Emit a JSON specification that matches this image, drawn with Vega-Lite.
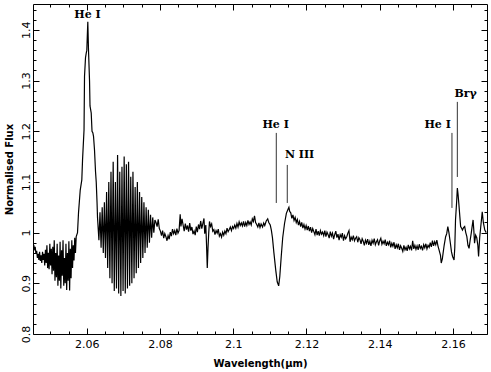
{
  "$schema": "https://vega.github.io/schema/vega-lite/v6.json",
  "width": 454,
  "height": 330,
  "autosize": "none",
  "padding": {"left": 33, "top": 4, "right": 4, "bottom": 38},
  "background": "white",
  "config": {
    "view": {"stroke": "black", "strokeWidth": 1},
    "axis": {"domain": false, "grid": false, "tickColor": "black", "tickWidth": 1, "labelColor": "black", "titleColor": "black", "labelFont": "DejaVu Sans", "labelFontSize": 11, "titleFont": "DejaVu Sans", "titleFontSize": 10, "titleFontWeight": "bold"}
  },
  "datasets": {
    "spectrum": [
      {"w":2.0455,"f":0.976},{"w":2.0457,"f":0.968},{"w":2.0459,"f":0.972},{"w":2.0461,"f":0.958},{"w":2.0463,"f":0.964},{"w":2.0465,"f":0.950},{"w":2.0467,"f":0.958},{"w":2.0469,"f":0.946},{"w":2.0471,"f":0.962},{"w":2.0473,"f":0.944},{"w":2.0475,"f":0.955},{"w":2.0477,"f":0.940},{"w":2.0479,"f":0.962},{"w":2.0481,"f":0.946},{"w":2.0483,"f":0.958},{"w":2.0485,"f":0.935},{"w":2.0487,"f":0.966},{"w":2.0489,"f":0.940},{"w":2.0491,"f":0.975},{"w":2.0493,"f":0.930},{"w":2.0495,"f":0.960},{"w":2.0497,"f":0.928},{"w":2.0499,"f":0.978},{"w":2.0501,"f":0.935},{"w":2.0503,"f":0.968},{"w":2.0505,"f":0.918},{"w":2.0507,"f":0.972},{"w":2.0509,"f":0.925},{"w":2.0511,"f":0.985},{"w":2.0513,"f":0.905},{"w":2.0515,"f":0.960},{"w":2.0517,"f":0.912},{"w":2.0519,"f":0.978},{"w":2.0521,"f":0.895},{"w":2.0523,"f":0.955},{"w":2.0525,"f":0.905},{"w":2.0527,"f":0.982},{"w":2.0529,"f":0.890},{"w":2.0531,"f":0.965},{"w":2.0533,"f":0.915},{"w":2.0535,"f":0.985},{"w":2.0537,"f":0.895},{"w":2.0539,"f":0.950},{"w":2.0541,"f":0.900},{"w":2.0543,"f":0.978},{"w":2.0545,"f":0.887},{"w":2.0547,"f":0.960},{"w":2.0549,"f":0.905},{"w":2.0551,"f":0.983},{"w":2.0553,"f":0.886},{"w":2.0555,"f":0.968},{"w":2.0557,"f":0.910},{"w":2.0559,"f":0.985},{"w":2.0561,"f":0.930},{"w":2.0563,"f":0.975},{"w":2.0565,"f":0.945},{"w":2.0567,"f":0.990},{"w":2.0569,"f":0.960},{"w":2.0571,"f":0.992},
      {"w":2.05746,"f":1.0},{"w":2.05773,"f":1.039},{"w":2.0582,"f":1.084},{"w":2.05863,"f":1.104},{"w":2.05883,"f":1.143},{"w":2.05924,"f":1.203},{"w":2.05937,"f":1.308},{"w":2.05964,"f":1.345},{"w":2.05984,"f":1.354},{"w":2.06,"f":1.36},{"w":2.06027,"f":1.416},{"w":2.06046,"f":1.36},{"w":2.06074,"f":1.30},{"w":2.06087,"f":1.25},{"w":2.0612,"f":1.236},{"w":2.06142,"f":1.20},{"w":2.06164,"f":1.197},{"w":2.06183,"f":1.19},{"w":2.0621,"f":1.163},{"w":2.06238,"f":1.12},{"w":2.06257,"f":1.10},{"w":2.06279,"f":1.06},{"w":2.06292,"f":1.03},
      {"w":2.0633,"f":0.985},{"w":2.0636,"f":1.04},{"w":2.0639,"f":0.97},{"w":2.0642,"f":1.05},{"w":2.0645,"f":0.96},{"w":2.0648,"f":1.06},{"w":2.0651,"f":0.95},{"w":2.0654,"f":1.08},{"w":2.0657,"f":0.93},{"w":2.0660,"f":1.10},{"w":2.0663,"f":0.91},{"w":2.0666,"f":1.12},{"w":2.0669,"f":0.90},{"w":2.0672,"f":1.14},{"w":2.0675,"f":0.885},{"w":2.0678,"f":1.10},{"w":2.0681,"f":0.89},{"w":2.0684,"f":1.153},{"w":2.0687,"f":0.88},{"w":2.0690,"f":1.12},{"w":2.0693,"f":0.875},{"w":2.0696,"f":1.13},{"w":2.0699,"f":0.885},{"w":2.0702,"f":1.15},{"w":2.0705,"f":0.88},{"w":2.0708,"f":1.135},{"w":2.0711,"f":0.89},{"w":2.0714,"f":1.14},{"w":2.0717,"f":0.895},{"w":2.0720,"f":1.11},{"w":2.0723,"f":0.90},{"w":2.0726,"f":1.12},{"w":2.0729,"f":0.91},{"w":2.0732,"f":1.09},{"w":2.0735,"f":0.92},{"w":2.0738,"f":1.10},{"w":2.0741,"f":0.93},{"w":2.0744,"f":1.08},{"w":2.0747,"f":0.94},{"w":2.0750,"f":1.07},{"w":2.0753,"f":0.95},{"w":2.0756,"f":1.06},{"w":2.0759,"f":0.96},{"w":2.0762,"f":1.05},{"w":2.0765,"f":0.97},{"w":2.0768,"f":1.045},{"w":2.0771,"f":0.98},{"w":2.0774,"f":1.035},{"w":2.0777,"f":0.99},{"w":2.0780,"f":1.03},{"w":2.0783,"f":1.0},{"w":2.0786,"f":1.025},
      {"w":2.0789,"f":1.02},{"w":2.0792,"f":1.012},{"w":2.0795,"f":1.026},{"w":2.0798,"f":1.008},{"w":2.0801,"f":1.003},{"w":2.0804,"f":0.994},{"w":2.0807,"f":1.004},{"w":2.0810,"f":0.989},{"w":2.0813,"f":0.998},{"w":2.0816,"f":0.992},{"w":2.0819,"f":0.984},{"w":2.0822,"f":0.994},{"w":2.0825,"f":0.987},{"w":2.0828,"f":1.001},{"w":2.0831,"f":0.993},{"w":2.0834,"f":1.007},{"w":2.0837,"f":0.998},{"w":2.0840,"f":1.004},{"w":2.0843,"f":0.995},{"w":2.0846,"f":1.008},{"w":2.0849,"f":0.999},{"w":2.0852,"f":1.004},{"w":2.0855,"f":1.036},{"w":2.0857,"f":1.012},{"w":2.0860,"f":1.027},{"w":2.0863,"f":1.015},{"w":2.0866,"f":1.003},{"w":2.0869,"f":1.018},{"w":2.0872,"f":1.006},{"w":2.0875,"f":1.014},{"w":2.0878,"f":1.002},{"w":2.0881,"f":1.019},{"w":2.0884,"f":1.004},{"w":2.0887,"f":1.011},{"w":2.0890,"f":0.997},{"w":2.0893,"f":1.003},{"w":2.0896,"f":0.995},{"w":2.0899,"f":1.012},{"w":2.0902,"f":1.001},{"w":2.0905,"f":1.016},{"w":2.0908,"f":1.007},{"w":2.0911,"f":1.023},{"w":2.0914,"f":1.008},{"w":2.0917,"f":1.018},{"w":2.0920,"f":1.028},{"w":2.0922,"f":0.998},{"w":2.0925,"f":1.015},{"w":2.0927,"f":0.975},{"w":2.0929,"f":0.93},{"w":2.0931,"f":0.97},{"w":2.0933,"f":1.0},{"w":2.0935,"f":1.022},{"w":2.0938,"f":1.012},{"w":2.0941,"f":1.017},{"w":2.0944,"f":1.003},{"w":2.0947,"f":1.006},{"w":2.0950,"f":0.996},{"w":2.0953,"f":1.004},{"w":2.0956,"f":0.999},{"w":2.0959,"f":1.007},{"w":2.0962,"f":0.993},{"w":2.0965,"f":0.998},{"w":2.0968,"f":0.991},{"w":2.0971,"f":1.001},{"w":2.0974,"f":0.995},{"w":2.0977,"f":1.003},{"w":2.0980,"f":0.998},{"w":2.0983,"f":1.009},{"w":2.0986,"f":1.002},{"w":2.0989,"f":1.006},{"w":2.0992,"f":1.011},{"w":2.0995,"f":1.004},{"w":2.0998,"f":1.012},{"w":2.1001,"f":1.008},{"w":2.1004,"f":1.015},{"w":2.1007,"f":1.009},{"w":2.1010,"f":1.018},{"w":2.1013,"f":1.011},{"w":2.1016,"f":1.021},{"w":2.1019,"f":1.014},{"w":2.1022,"f":1.019},{"w":2.1025,"f":1.013},{"w":2.1028,"f":1.022},
      {"w":2.1031,"f":1.012},{"w":2.1034,"f":1.02},{"w":2.1037,"f":1.014},{"w":2.1040,"f":1.024},{"w":2.1043,"f":1.016},{"w":2.1046,"f":1.021},{"w":2.1049,"f":1.015},{"w":2.1052,"f":1.027},{"w":2.1055,"f":1.022},{"w":2.1058,"f":1.033},{"w":2.1061,"f":1.02},{"w":2.1064,"f":1.016},{"w":2.1067,"f":1.011},{"w":2.1070,"f":1.019},{"w":2.1073,"f":1.01},{"w":2.1076,"f":1.017},{"w":2.1080,"f":1.011},{"w":2.1083,"f":1.019},{"w":2.1086,"f":1.014},{"w":2.1090,"f":1.023},{"w":2.1094,"f":1.027},{"w":2.1097,"f":1.02},{"w":2.1101,"f":1.015},{"w":2.1104,"f":1.005},{"w":2.1107,"f":0.99},{"w":2.1111,"f":0.96},{"w":2.1116,"f":0.926},{"w":2.1120,"f":0.903},{"w":2.1124,"f":0.895},{"w":2.1127,"f":0.913},{"w":2.1131,"f":0.953},{"w":2.1135,"f":0.99},{"w":2.1140,"f":1.018},{"w":2.1145,"f":1.038},{"w":2.1149,"f":1.045},{"w":2.1152,"f":1.05},{"w":2.1154,"f":1.042},{"w":2.1157,"f":1.039},{"w":2.1160,"f":1.028},{"w":2.1163,"f":1.035},{"w":2.1166,"f":1.024},{"w":2.1169,"f":1.03},{"w":2.1172,"f":1.02},{"w":2.1175,"f":1.026},{"w":2.1178,"f":1.015},{"w":2.1181,"f":1.022},{"w":2.1184,"f":1.012},{"w":2.1187,"f":1.02},{"w":2.1190,"f":1.009},{"w":2.1193,"f":1.016},{"w":2.1196,"f":1.007},{"w":2.1199,"f":1.014},{"w":2.1202,"f":1.005},{"w":2.1205,"f":1.013},{"w":2.1208,"f":1.003},{"w":2.1211,"f":1.011},{"w":2.1214,"f":1.0},{"w":2.1217,"f":1.008},{"w":2.1220,"f":1.002},{"w":2.1223,"f":0.996},{"w":2.1226,"f":1.007},{"w":2.1229,"f":0.995},{"w":2.1232,"f":1.003},{"w":2.1235,"f":0.994},{"w":2.1238,"f":1.004},{"w":2.1241,"f":0.997},{"w":2.1244,"f":1.001},
      {"w":2.1247,"f":0.994},{"w":2.1250,"f":1.004},{"w":2.1253,"f":0.992},{"w":2.1256,"f":1.001},{"w":2.1259,"f":0.996},{"w":2.1262,"f":0.989},{"w":2.1265,"f":1.002},{"w":2.1268,"f":0.993},{"w":2.1271,"f":0.999},{"w":2.1274,"f":0.987},{"w":2.1277,"f":0.996},{"w":2.1280,"f":1.003},{"w":2.1283,"f":0.99},{"w":2.1286,"f":0.997},{"w":2.1289,"f":0.985},{"w":2.1292,"f":0.996},{"w":2.1295,"f":0.991},{"w":2.1298,"f":0.999},{"w":2.1301,"f":0.984},{"w":2.1304,"f":0.994},{"w":2.1307,"f":0.988},{"w":2.1310,"f":0.992},{"w":2.1313,"f":0.999},{"w":2.1316,"f":1.004},{"w":2.1319,"f":0.982},{"w":2.1322,"f":0.991},{"w":2.1325,"f":0.986},{"w":2.1328,"f":0.994},{"w":2.1331,"f":0.984},{"w":2.1334,"f":0.989},{"w":2.1337,"f":0.992},{"w":2.1340,"f":0.981},{"w":2.1343,"f":0.99},{"w":2.1346,"f":0.986},{"w":2.1349,"f":0.978},{"w":2.1352,"f":0.988},{"w":2.1355,"f":0.983},{"w":2.1358,"f":0.975},{"w":2.1361,"f":0.985},{"w":2.1364,"f":0.979},{"w":2.1367,"f":0.987},{"w":2.1370,"f":0.976},{"w":2.1373,"f":0.983},{"w":2.1376,"f":0.974},{"w":2.1379,"f":0.985},{"w":2.1382,"f":0.979},{"w":2.1385,"f":0.988},{"w":2.1388,"f":0.976},{"w":2.1391,"f":0.982},{"w":2.1394,"f":0.986},{"w":2.1397,"f":0.975},{"w":2.1400,"f":0.984},{"w":2.1403,"f":0.989},{"w":2.1406,"f":0.977},{"w":2.1409,"f":0.983},{"w":2.1412,"f":0.978},{"w":2.1415,"f":0.986},{"w":2.1418,"f":0.974},{"w":2.1421,"f":0.981},{"w":2.1424,"f":0.976},{"w":2.1427,"f":0.984},{"w":2.1430,"f":0.971},{"w":2.1433,"f":0.979},{"w":2.1436,"f":0.973},{"w":2.1439,"f":0.981},{"w":2.1442,"f":0.968},{"w":2.1445,"f":0.976},{"w":2.1448,"f":0.97},{"w":2.1451,"f":0.978},{"w":2.1454,"f":0.966},{"w":2.1457,"f":0.974},{"w":2.1460,"f":0.969},{"w":2.1463,"f":0.963},{"w":2.1466,"f":0.975},{"w":2.1469,"f":0.966},{"w":2.1472,"f":0.971},{"w":2.1475,"f":0.964},{"w":2.1478,"f":0.976},{"w":2.1481,"f":0.968},{"w":2.1484,"f":0.973},{"w":2.1487,"f":0.965},{"w":2.1490,"f":0.984},{"w":2.1493,"f":0.968},{"w":2.1496,"f":0.975},{"w":2.1499,"f":0.967},
      {"w":2.1502,"f":0.974},{"w":2.1505,"f":0.966},{"w":2.1508,"f":0.977},{"w":2.1511,"f":0.969},{"w":2.1514,"f":0.973},{"w":2.1517,"f":0.965},{"w":2.1520,"f":0.976},{"w":2.1523,"f":0.97},{"w":2.1526,"f":0.978},{"w":2.1529,"f":0.968},{"w":2.1532,"f":0.975},{"w":2.1535,"f":0.971},{"w":2.1538,"f":0.98},{"w":2.1541,"f":0.972},{"w":2.1544,"f":0.984},{"w":2.1547,"f":0.974},{"w":2.1550,"f":0.982},{"w":2.1553,"f":0.976},{"w":2.1556,"f":0.985},{"w":2.1559,"f":0.974},{"w":2.1562,"f":0.966},{"w":2.1566,"f":0.955},{"w":2.1568,"f":0.94},{"w":2.1571,"f":0.948},{"w":2.1573,"f":0.959},{"w":2.1576,"f":0.975},{"w":2.1580,"f":0.992},{"w":2.1583,"f":0.998},{"w":2.1586,"f":1.012},{"w":2.1589,"f":1.0},{"w":2.1593,"f":0.979},{"w":2.1596,"f":0.962},{"w":2.1599,"f":0.953},{"w":2.1603,"f":0.946},{"w":2.1605,"f":0.97},{"w":2.1607,"f":1.025},{"w":2.1610,"f":1.06},{"w":2.1612,"f":1.088},{"w":2.1614,"f":1.075},{"w":2.1616,"f":1.058},{"w":2.1619,"f":1.03},{"w":2.1621,"f":1.012},{"w":2.1624,"f":1.008},{"w":2.1626,"f":1.005},{"w":2.1629,"f":1.01},{"w":2.1632,"f":1.012},{"w":2.1635,"f":1.0},{"w":2.1638,"f":0.992},{"w":2.1641,"f":0.975},{"w":2.1644,"f":0.969},{"w":2.1647,"f":0.985},{"w":2.1650,"f":0.999},{"w":2.1652,"f":1.01},{"w":2.1655,"f":1.025},{"w":2.1657,"f":1.005},{"w":2.1659,"f":0.979},{"w":2.1662,"f":0.995},{"w":2.1665,"f":0.99},{"w":2.1668,"f":0.975},{"w":2.1670,"f":0.953},{"w":2.1673,"f":0.99},{"w":2.1676,"f":1.012},{"w":2.1680,"f":1.041},{"w":2.1683,"f":1.02},{"w":2.1687,"f":1.005},{"w":2.1691,"f":1.0}
    ],
    "lines": [
      {"w":2.11175,"top":1.1967,"bottom":1.0585},
      {"w":2.11475,"top":1.1335,"bottom":1.0585},
      {"w":2.15973,"top":1.1967,"bottom":1.0487},
      {"w":2.1612,"top":1.2579,"bottom":1.1098}
    ],
    "labels": [
      {"w":2.0602,"f":1.424,"label":"He I"},
      {"w":2.11156,"f":1.2066,"label":"He I"},
      {"w":2.11811,"f":1.1473,"label":"N III"},
      {"w":2.15582,"f":1.2066,"label":"He I"},
      {"w":2.16347,"f":1.2677,"label":"Brγ"}
    ]
  },
  "layer": [
    {
      "data": {"name": "spectrum"},
      "mark": {"type": "line", "color": "black", "strokeWidth": 1.2, "clip": true},
      "encoding": {
        "x": {"field": "w", "type": "quantitative", "scale": {"domain": [2.0453, 2.1693], "nice": false, "zero": false},
          "axis": {"orient": "bottom", "title": "Wavelength(µm)", "values": [2.05,2.055,2.06,2.065,2.07,2.075,2.08,2.085,2.09,2.095,2.1,2.105,2.11,2.115,2.12,2.125,2.13,2.135,2.14,2.145,2.15,2.155,2.16,2.165],
            "format": ".2~f", "labelExpr": "round(datum.value*1000) % 20 == 0 ? datum.label : ''",
            "tickSize": {"condition": {"test": "round(datum.value*1000) % 20 == 0", "value": -6}, "value": -3},
            "labelPadding": 10, "titlePadding": 6, "labelFlush": false, "labelOverlap": false}},
        "y": {"field": "f", "type": "quantitative", "scale": {"domain": [0.8, 1.451], "nice": false, "zero": false},
          "axis": {"orient": "left", "title": "Normalised Flux", "values": [0.8,0.82,0.84,0.86,0.88,0.9,0.92,0.94,0.96,0.98,1,1.02,1.04,1.06,1.08,1.1,1.12,1.14,1.16,1.18,1.2,1.22,1.24,1.26,1.28,1.3,1.32,1.34,1.36,1.38,1.4,1.42,1.44],
            "format": ".1~f", "labelExpr": "round(datum.value*100) % 10 == 0 ? datum.label : ''",
            "tickSize": {"condition": {"test": "round(datum.value*100) % 10 == 0", "value": -6}, "value": -3},
            "labelAngle": -90, "labelAlign": "center", "labelBaseline": "bottom", "labelPadding": 8, "titlePadding": 3, "labelFlush": false, "labelOverlap": false}}
      }
    },
    {
      "data": {"name": "lines"},
      "mark": {"type": "rule", "color": "#333333", "strokeWidth": 1},
      "encoding": {
        "x": {"field": "w", "type": "quantitative", "scale": {"domain": [2.0453, 2.1693], "nice": false, "zero": false},
          "axis": {"orient": "top", "title": null, "labels": false, "values": [2.05,2.055,2.06,2.065,2.07,2.075,2.08,2.085,2.09,2.095,2.1,2.105,2.11,2.115,2.12,2.125,2.13,2.135,2.14,2.145,2.15,2.155,2.16,2.165],
            "tickSize": {"condition": {"test": "round(datum.value*1000) % 20 == 0", "value": -6}, "value": -3}}},
        "y": {"field": "top", "type": "quantitative", "scale": {"domain": [0.8, 1.451], "nice": false, "zero": false},
          "axis": {"orient": "right", "title": null, "labels": false, "values": [0.8,0.82,0.84,0.86,0.88,0.9,0.92,0.94,0.96,0.98,1,1.02,1.04,1.06,1.08,1.1,1.12,1.14,1.16,1.18,1.2,1.22,1.24,1.26,1.28,1.3,1.32,1.34,1.36,1.38,1.4,1.42,1.44],
            "tickSize": {"condition": {"test": "round(datum.value*100) % 10 == 0", "value": -6}, "value": -3}}},
        "y2": {"field": "bottom"}
      }
    },
    {
      "data": {"name": "labels"},
      "mark": {"type": "text", "font": "DejaVu Serif", "fontWeight": "bold", "fontSize": 11, "baseline": "alphabetic", "align": "center", "color": "black"},
      "encoding": {
        "x": {"field": "w", "type": "quantitative", "axis": null},
        "y": {"field": "f", "type": "quantitative", "axis": null},
        "text": {"field": "label"}
      }
    }
  ],
  "resolve": {"axis": {"x": "independent", "y": "independent"}}
}
